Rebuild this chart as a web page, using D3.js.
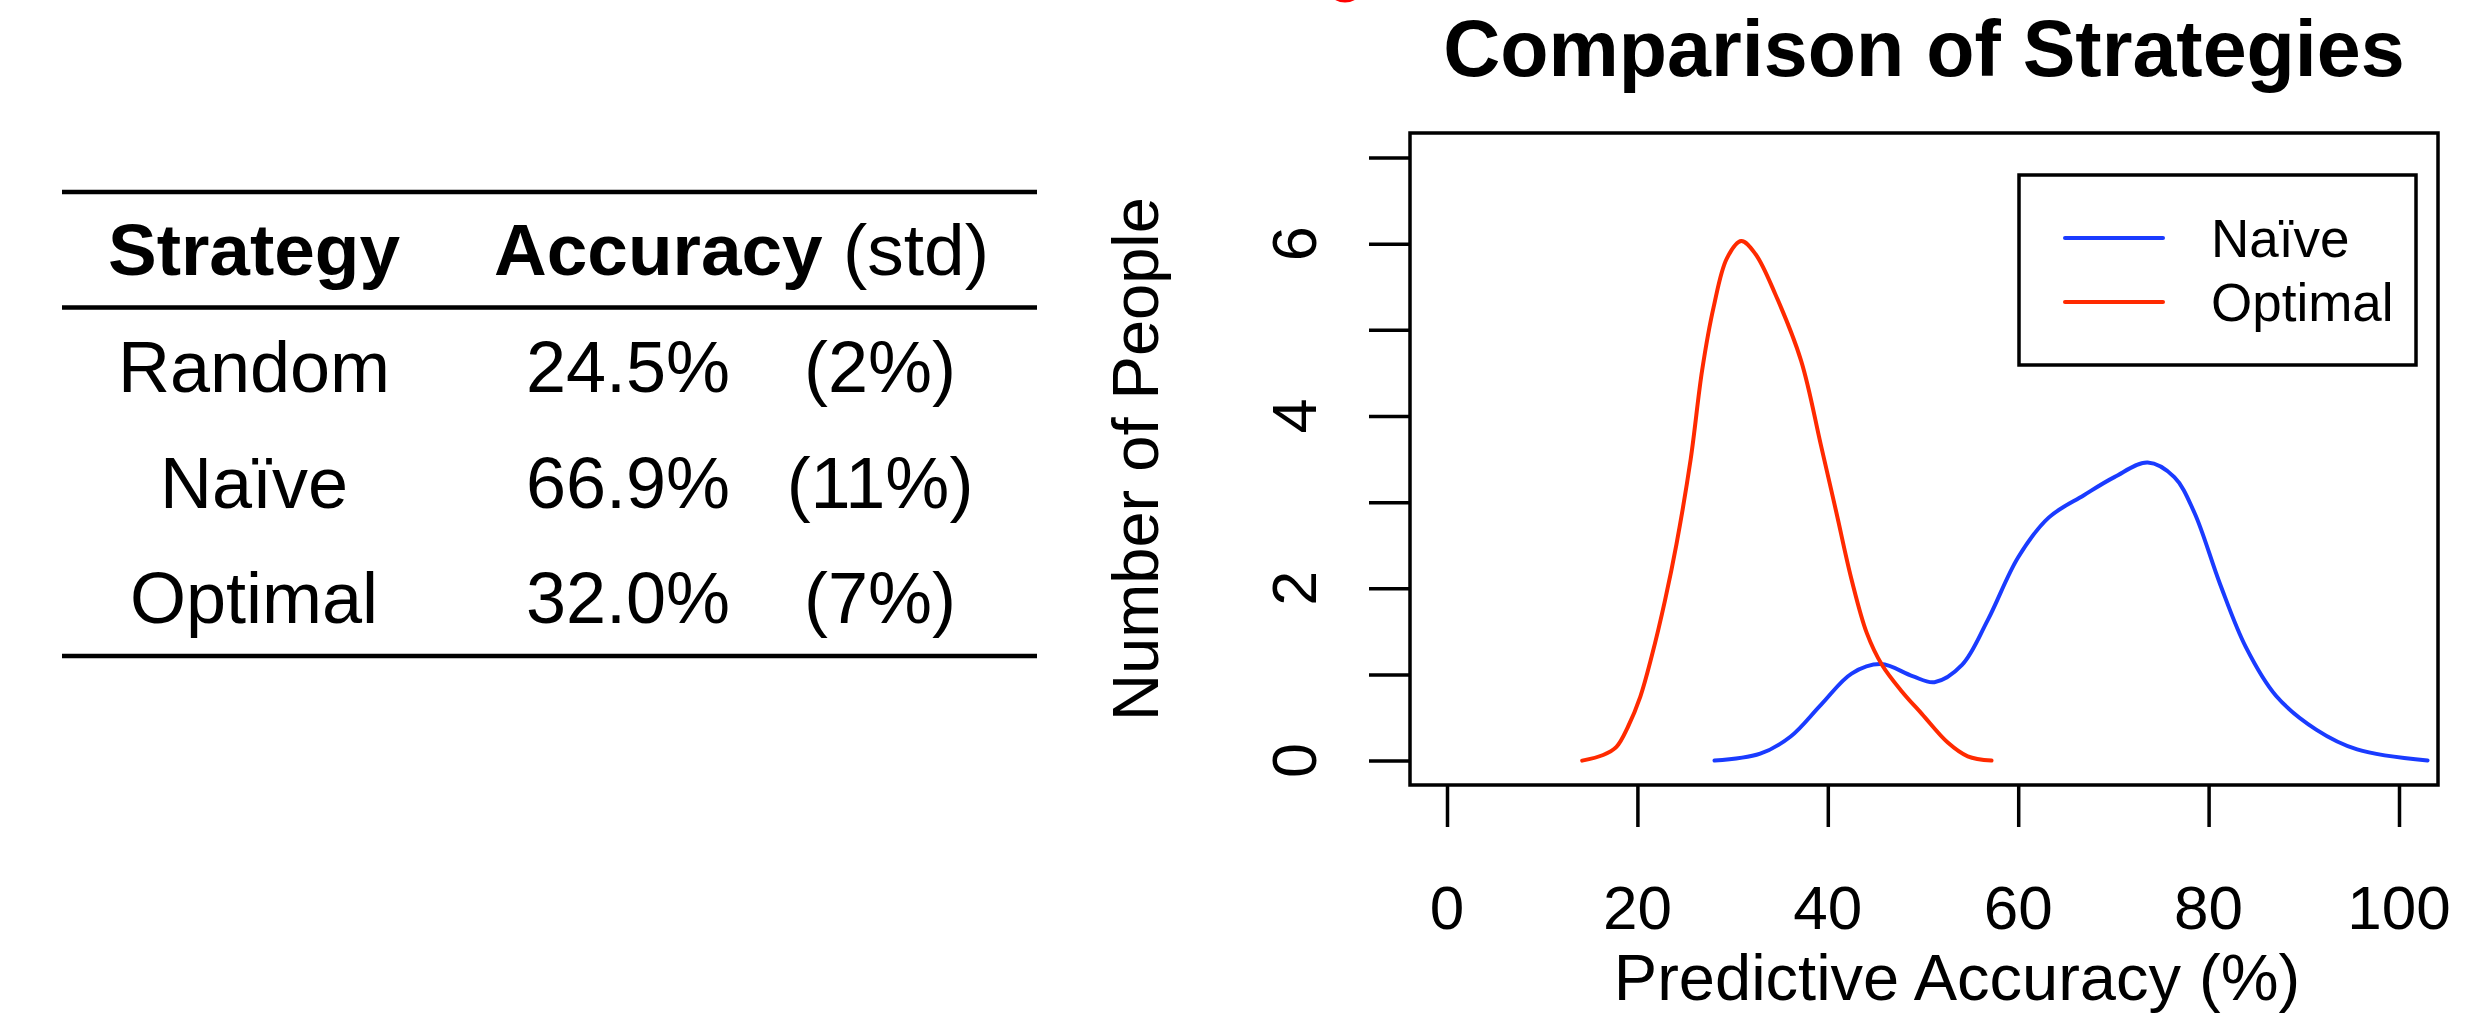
<!DOCTYPE html>
<html>
<head>
<meta charset="utf-8">
<script src="https://cdn.jsdelivr.net/npm/d3@7"></script>
<style>
  body { margin: 0; background: #fff; }
  svg text { font-family: 'Liberation Sans', Arial, Helvetica, sans-serif; fill: #000; }
</style>
</head>
<body>
<svg id="canvas" width="2492" height="1018"></svg>
<script>
// table values
const strategies = ['Random', 'Naïve', 'Optimal'];
const accuracies = ['24.5%', '66.9%', '32.0%'];
const stds = ['(2%)', '(11%)', '(7%)'];

// density curves
const naiveX = [28.1, 32.9, 36.1, 39.3, 42.5, 45.6, 48.9, 51.2, 54.1, 56.8, 60.0, 63.2, 66.9, 70.1, 73.6, 76.4, 78.5, 81.2, 83.9, 87.1, 91.3, 95.6, 103.0];
const naiveY = [0.0, 0.08, 0.28, 0.65, 1.01, 1.12, 0.98, 0.91, 1.11, 1.63, 2.36, 2.82, 3.08, 3.29, 3.46, 3.29, 2.88, 2.05, 1.32, 0.75, 0.36, 0.13, 0.0];
const optimalX = [14.2, 16.4, 17.8, 19.0, 20.3, 21.5, 22.9, 24.1, 25.6, 26.8, 28.0, 29.4, 30.9, 32.4, 34.5, 37.2, 39.3, 40.9, 42.5, 44.1, 45.7, 47.8, 49.9, 52.6, 54.7, 57.2];
const optimalY = [0.0, 0.065, 0.16, 0.39, 0.74, 1.21, 1.86, 2.51, 3.50, 4.53, 5.26, 5.83, 6.03, 5.88, 5.41, 4.64, 3.65, 2.88, 2.10, 1.48, 1.11, 0.80, 0.54, 0.21, 0.05, 0.0];

const xTicks = [0, 20, 40, 60, 80, 100];
const yTicks = [0, 1, 2, 3, 4, 5, 6, 7];
const yLabels = [0, 2, 4, 6];

const seriesNames = ['Naïve', 'Optimal'];
const seriesColors = ['#1a3bff', '#ff2a00'];

const canvas = d3.select('#canvas');

// ---- table on the left ----
const drawTable = () => {
  const g = canvas.append('g');
  [192, 307.5, 656].forEach((yy) => {
    g.append('line')
      .attr('x1', 62).attr('x2', 1037)
      .attr('y1', yy).attr('y2', yy)
      .attr('stroke', '#000').attr('stroke-width', 4.5);
  });

  g.append('text')
    .attr('x', 254).attr('y', 275)
    .attr('text-anchor', 'middle')
    .style('font-size', '73px').style('font-weight', 'bold')
    .text('Strategy');

  const head = g.append('text')
    .attr('x', 494).attr('y', 275)
    .style('font-size', '73px');
  head.append('tspan').style('font-weight', 'bold').text('Accuracy');
  head.append('tspan').text(' (std)');

  const rowY = d3.scalePoint().domain(strategies).range([392, 623]);

  strategies.forEach((s, i) => {
    const yy = rowY(s);
    g.append('text').attr('x', 254).attr('y', yy)
      .attr('text-anchor', 'middle').style('font-size', '72px').text(s);
    g.append('text').attr('x', 628).attr('y', yy)
      .attr('text-anchor', 'middle').style('font-size', '72px').text(accuracies[i]);
    g.append('text').attr('x', 880).attr('y', yy)
      .attr('text-anchor', 'middle').style('font-size', '72px').text(stds[i]);
  });
};

// ---- density plot on the right ----
const drawPlot = () => {
  const box = { left: 1410, right: 2438, top: 133, bottom: 785 };

  const x = d3.scaleLinear().domain([0, 100]).range([1447, 2399]);
  const y = d3.scaleLinear().domain([0, 7]).range([760.6, 157.5]);

  // x axis
  const xAxis = canvas.append('g')
    .attr('transform', `translate(0,${box.bottom})`)
    .call(d3.axisBottom(x).tickValues(xTicks).tickSize(42).tickFormat(''));
  xAxis.select('.domain').remove();
  xAxis.selectAll('.tick line').attr('stroke', '#000').attr('stroke-width', 3.5);

  canvas.append('g').selectAll('text')
    .data(xTicks)
    .enter()
    .append('text')
    .attr('x', (d) => x(d))
    .attr('y', 929)
    .attr('text-anchor', 'middle')
    .style('font-size', '62px')
    .text((d) => d);

  // y axis
  const yAxis = canvas.append('g')
    .attr('transform', `translate(${box.left},0)`)
    .call(d3.axisLeft(y).tickValues(yTicks).tickSize(41).tickFormat(''));
  yAxis.select('.domain').remove();
  yAxis.selectAll('.tick line').attr('stroke', '#000').attr('stroke-width', 3.5);

  canvas.append('g').selectAll('text')
    .data(yLabels)
    .enter()
    .append('text')
    .attr('transform', (d) => `translate(1316,${y(d)}) rotate(-90)`)
    .attr('text-anchor', 'middle')
    .style('font-size', '63px')
    .text((d) => d);

  // curves
  const line = d3.line()
    .x((d) => x(d[0]))
    .y((d) => y(d[1]))
    .curve(d3.curveCatmullRom.alpha(0.5));

  const series = [
    d3.zip(naiveX, naiveY),
    d3.zip(optimalX, optimalY)
  ];

  canvas.append('g').selectAll('path')
    .data(series)
    .enter()
    .append('path')
    .attr('d', line)
    .attr('fill', 'none')
    .attr('stroke', (d, i) => seriesColors[i])
    .attr('stroke-width', 4)
    .attr('stroke-linecap', 'round');

  // frame
  canvas.append('rect')
    .attr('x', box.left).attr('y', box.top)
    .attr('width', box.right - box.left)
    .attr('height', box.bottom - box.top)
    .attr('fill', 'none')
    .attr('stroke', '#000')
    .attr('stroke-width', 3.5);

  // legend
  const legend = canvas.append('g');
  legend.append('rect')
    .attr('x', 2019).attr('y', 175)
    .attr('width', 397).attr('height', 190)
    .attr('fill', '#fff')
    .attr('stroke', '#000')
    .attr('stroke-width', 3.5);

  const legY = d3.scalePoint().domain(seriesNames).range([238, 302]);
  seriesNames.forEach((name, i) => {
    legend.append('line')
      .attr('x1', 2065).attr('x2', 2163)
      .attr('y1', legY(name)).attr('y2', legY(name))
      .attr('stroke', seriesColors[i])
      .attr('stroke-width', 4)
      .attr('stroke-linecap', 'round');
    legend.append('text')
      .attr('x', 2211).attr('y', legY(name) + 19)
      .style('font-size', '53px')
      .text(name);
  });

  // titles
  canvas.append('text')
    .attr('x', 1924).attr('y', 76)
    .attr('text-anchor', 'middle')
    .style('font-size', '79px').style('font-weight', 'bold')
    .text('Comparison of Strategies');

  canvas.append('text')
    .attr('x', 1957).attr('y', 1000)
    .attr('text-anchor', 'middle')
    .style('font-size', '65px')
    .text('Predictive Accuracy (%)');

  canvas.append('text')
    .attr('transform', `translate(1158,${(box.top + box.bottom) / 2}) rotate(-90)`)
    .attr('text-anchor', 'middle')
    .style('font-size', '65px')
    .text('Number of People');

  // bit of red cut off at the top edge
  canvas.append('ellipse')
    .attr('cx', 1345).attr('cy', -6)
    .attr('rx', 12).attr('ry', 7)
    .attr('fill', 'none')
    .attr('stroke', '#ff0000')
    .attr('stroke-width', 3);
};

drawTable();
drawPlot();
</script>
</body>
</html>
